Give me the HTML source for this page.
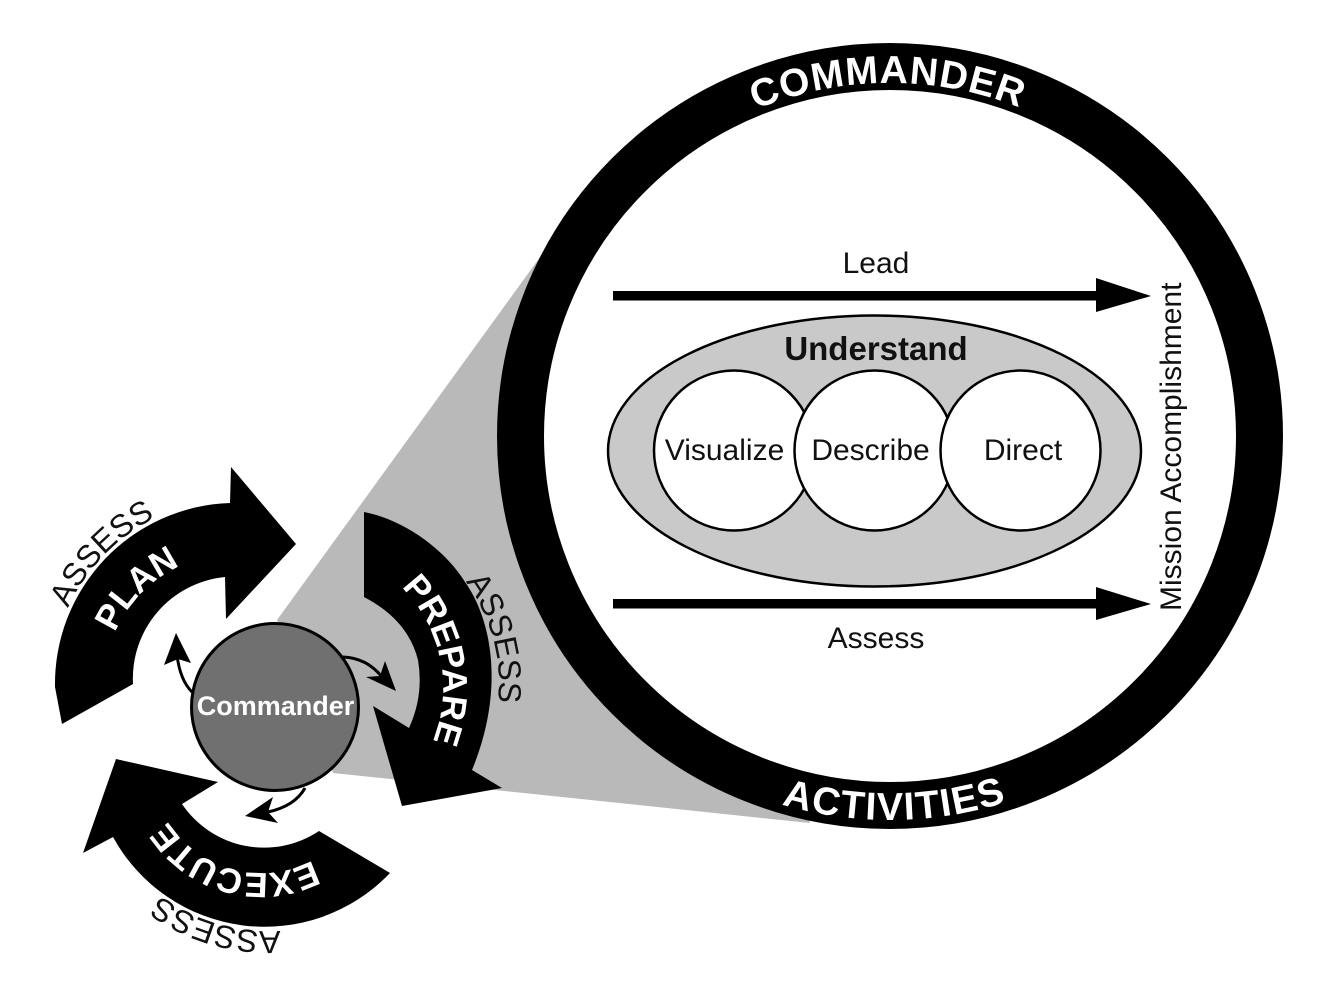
<!DOCTYPE html>
<html><head><meta charset="utf-8"><style>
html,body{margin:0;padding:0;background:#fff}
svg{display:block}
text{font-family:"Liberation Sans",sans-serif}
</style></head><body>
<svg width="1318" height="999" viewBox="0 0 1318 999" xmlns="http://www.w3.org/2000/svg">
<defs>
<path id="top353" d="M537,436 A353,353 0 0 1 1243,436"/>
<path id="bot384" d="M506,436 A384,384 0 0 0 1274,436"/>
<path id="c131" d="M-131,0 A131,131 0 0 1 131,0"/>
<path id="c143" d="M-143,0 A143,143 0 0 1 143,0"/>
<path id="c110" d="M-110,0 A110,110 0 0 1 110,0"/>
<path id="c188" d="M-188,0 A188,188 0 0 1 188,0"/>
<path id="c170" d="M-170,0 A170,170 0 0 1 170,0"/>
<path id="c184" d="M-184,0 A184,184 0 0 1 184,0"/>
</defs>
<rect width="1318" height="999" fill="#fff"/>
<polygon points="277,620 548,246 700,500 810,823 333,773" fill="#b9b9b9"/>
<circle cx="890" cy="436" r="369.5" fill="#fff" stroke="#000" stroke-width="47"/>
<text font-size="39" font-weight="bold" fill="#fff" text-anchor="middle" letter-spacing="1"><textPath href="#top353" startOffset="49.8%">COMMANDER</textPath></text>
<text font-size="39" font-weight="bold" fill="#fff" text-anchor="middle" letter-spacing="1.5"><textPath href="#bot384" startOffset="50.4%">ACTIVITIES</textPath></text>

<text x="876" y="273" font-size="30" text-anchor="middle" fill="#111">Lead</text>
<rect x="613" y="291" width="490" height="9.5" fill="#000"/>
<polygon points="1096,278 1151,296 1096,312" fill="#000"/>
<ellipse cx="874.5" cy="451" rx="266.5" ry="135.5" fill="#c9c9c9" stroke="#000" stroke-width="2.5"/>
<text x="876" y="360" font-size="33" font-weight="bold" text-anchor="middle" fill="#111">Understand</text>
<circle cx="734" cy="450.5" r="80" fill="#fff" stroke="#000" stroke-width="2.5"/>
<circle cx="874.5" cy="450.5" r="80" fill="#fff" stroke="#000" stroke-width="2.5"/>
<circle cx="1020.5" cy="450.5" r="80" fill="#fff" stroke="#000" stroke-width="2.5"/>
<text x="724.5" y="460" font-size="30" text-anchor="middle" fill="#111">Visualize</text>
<text x="870.5" y="460" font-size="30" text-anchor="middle" fill="#111">Describe</text>
<text x="1023" y="460" font-size="30" text-anchor="middle" fill="#111">Direct</text>
<rect x="613" y="599" width="490" height="9.5" fill="#000"/>
<polygon points="1096,587 1151,604 1096,620" fill="#000"/>
<text x="876" y="648" font-size="30" text-anchor="middle" fill="#111">Assess</text>
<text transform="translate(1181,611) rotate(-90)" font-size="30" fill="#111">Mission Accomplishment</text>

<path d="M62,724 L55,687 A181,181 0 0 1 230,503 L231,467 L296,544 L226,619 L225,577 A102,102 0 0 0 133,684 Z" fill="#000"/>
<path d="M364,512 C405,520 445,550 465,582 C492,620 505,690 472,770 L502,788 L402,806 L373,706 L409,728 Q424,695 418,660 Q408,620 364,597 Z" fill="#000"/>
<path d="M390,873 A173,173 0 0 1 113,837 L83,853 L116,759 L218,782 L182,804 A99,99 0 0 0 319,831 Z" fill="#000"/>

<g transform="translate(235,685) rotate(-45.6)"><text font-size="35" font-weight="bold" fill="#fff" text-anchor="middle"><textPath href="#c131" startOffset="50%">PLAN</textPath></text></g>
<g transform="translate(300,688) rotate(78.5)"><text font-size="35" font-weight="bold" fill="#fff" text-anchor="middle"><textPath href="#c143" startOffset="50%">PREPARE</textPath></text></g>
<g transform="translate(261,763) rotate(195)"><text font-size="35" font-weight="bold" fill="#fff" text-anchor="middle"><textPath href="#c110" startOffset="50%">EXECUTE</textPath></text></g>
<g transform="translate(239,686) rotate(-46)"><text font-size="32" fill="#111" text-anchor="middle"><textPath href="#c188" startOffset="50%">ASSESS</textPath></text></g>
<g transform="translate(329,683) rotate(75)"><text font-size="32" fill="#111" text-anchor="middle"><textPath href="#c170" startOffset="50%">ASSESS</textPath></text></g>
<g transform="translate(269,747) rotate(196.4)"><text font-size="32" fill="#111" text-anchor="middle"><textPath href="#c184" startOffset="50%">ASSESS</textPath></text></g>

<path d="M192,692 Q180,680 177,655" fill="none" stroke="#000" stroke-width="3"/>
<polygon points="176,633 191,663 178,659 164,665" fill="#000"/>
<path d="M343,657 Q367,658 382,677" fill="none" stroke="#000" stroke-width="3"/>
<polygon points="396,691 366,677 380,676 385,661" fill="#000"/>
<path d="M305,788 Q295,806 268,812" fill="none" stroke="#000" stroke-width="3"/>
<polygon points="245,816 273,797 268,812 278,823" fill="#000"/>

<circle cx="275" cy="707" r="83.5" fill="#707070" stroke="#000" stroke-width="3"/>
<text x="275.5" y="715" font-size="27" font-weight="bold" text-anchor="middle" fill="#fff">Commander</text>
</svg>
</body></html>
